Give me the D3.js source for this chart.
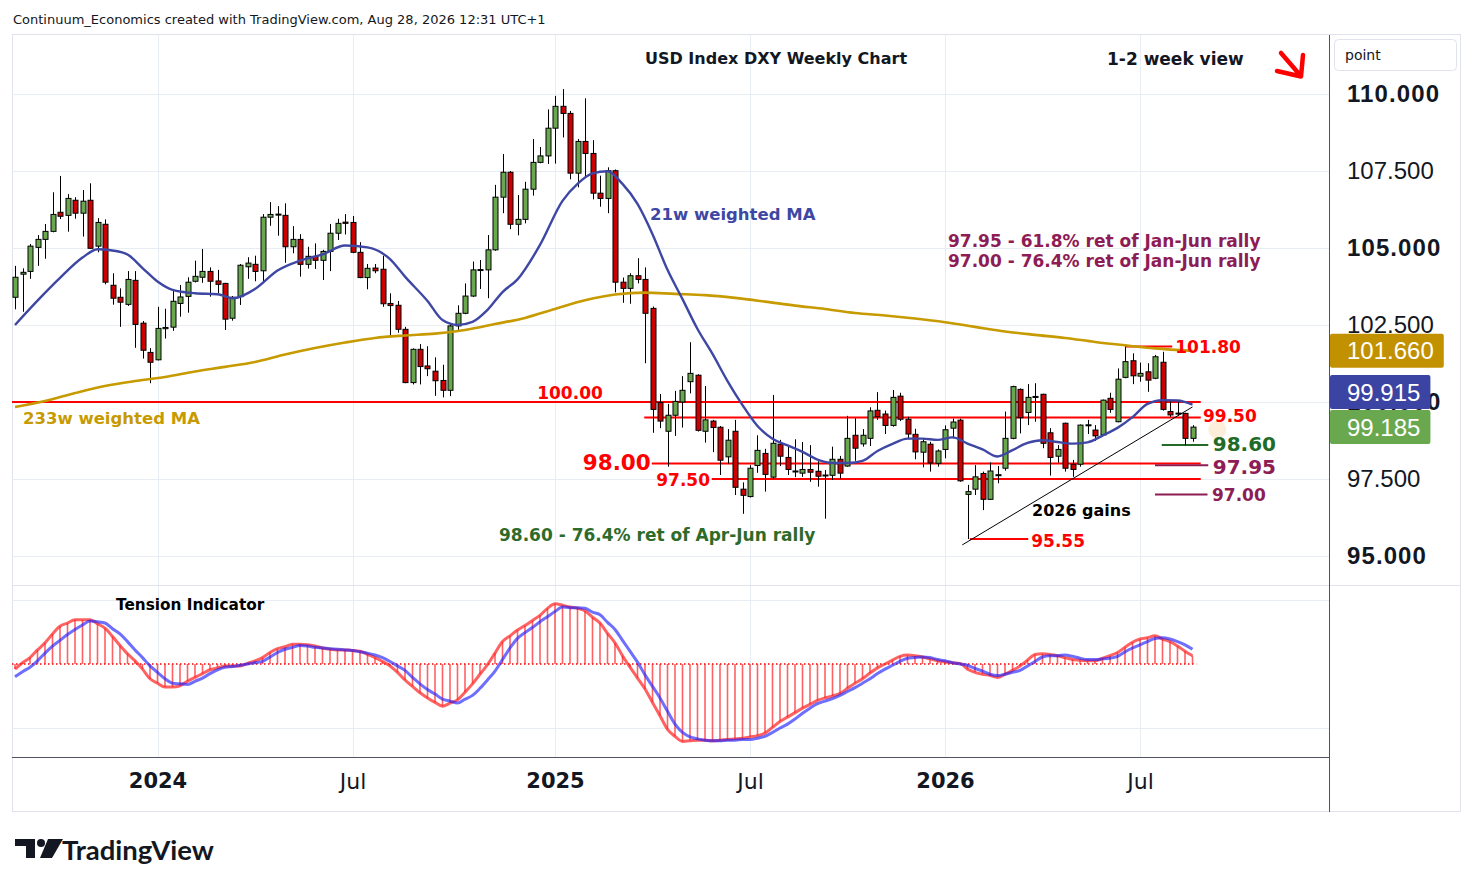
<!DOCTYPE html>
<html>
<head>
<meta charset="utf-8">
<script src="https://cdnjs.cloudflare.com/ajax/libs/d3/7.8.5/d3.min.js"></script>
<style>
  body { margin: 0; background: #ffffff; }
  svg { display: block; font-family: "DejaVu Sans", sans-serif; }
</style>
</head>
<body>
<svg id="chart" width="1474" height="887"></svg>
<script>
// ---- data ----
var firstWeek = "2023-08-21";

var opens = [103.40,104.15,104.24,105.02,105.28,105.54,106.16,106.06,106.55,106.13,
106.55,105.06,105.77,103.79,103.40,103.17,103.95,102.56,101.61,101.37,
102.38,102.43,103.20,103.43,103.92,104.05,104.24,103.93,103.85,102.72,
103.42,104.39,104.47,104.26,106.00,106.08,106.06,105.04,105.28,104.47,
104.73,104.60,104.89,105.48,105.84,105.83,104.86,104.04,104.35,104.31,
103.20,103.14,102.36,100.63,101.71,101.17,101.00,100.70,100.38,102.47,
102.88,103.44,104.27,104.29,104.94,106.65,107.46,105.77,105.93,106.91,
107.78,107.99,108.89,109.60,109.37,107.43,108.46,108.07,106.78,106.61,
107.51,103.89,103.69,104.10,103.98,103.04,99.98,99.05,99.57,100.00,
100.66,100.87,99.05,99.38,99.18,98.22,99.05,97.17,96.93,97.94,
98.33,97.56,98.63,98.20,97.76,97.69,97.81,97.75,97.61,97.62,
98.14,97.92,98.92,98.64,98.82,99.73,99.61,99.24,100.19,99.44,
98.95,98.37,98.63,98.01,98.46,99.15,99.41,97.00,97.17,97.68,
96.84,97.62,97.85,98.82,100.41,99.66,100.16,100.25,99.00,98.24,
99.31,97.98,97.98,99.24,99.09,98.93,100.12,99.36,100.80,101.34,
100.84,100.98,100.77,101.29,99.69,99.64,99.63,98.82];

var highs = [104.42,104.34,105.13,105.42,105.78,106.81,107.34,106.75,106.65,106.88,
107.10,105.97,105.93,104.18,103.69,104.25,104.25,102.63,101.75,103.09,
103.03,103.67,103.80,104.05,104.59,104.97,104.37,104.29,103.87,103.44,
104.48,104.70,104.75,106.10,106.49,106.36,106.45,105.71,105.45,105.04,
105.15,104.94,105.78,105.95,106.10,106.04,105.19,104.48,104.48,104.75,
103.53,103.28,102.44,101.74,101.88,101.81,101.45,101.21,102.57,103.14,
103.85,104.56,104.61,105.42,107.05,108.05,107.50,106.72,107.15,108.54,
108.28,109.50,109.94,110.16,109.45,108.54,109.86,108.50,107.35,107.62,
107.55,104.04,104.18,104.67,104.37,103.10,100.26,99.94,100.36,100.84,
101.94,100.90,100.52,99.42,99.22,99.12,99.42,97.39,97.95,98.92,
98.48,100.23,98.77,98.60,98.79,98.70,98.60,98.08,97.79,98.55,
98.25,99.55,99.47,99.12,99.83,100.32,99.72,100.39,100.30,99.52,
99.13,98.81,98.71,98.46,99.24,99.46,99.46,97.31,97.95,97.74,
98.04,97.92,99.69,100.53,100.44,100.58,100.61,100.27,99.15,98.60,
99.33,98.12,99.27,99.42,99.25,100.08,100.30,101.09,101.80,101.58,
101.28,101.26,101.53,101.63,100.03,100.04,99.65,99.25];

var lows = [103.01,102.93,104.00,104.42,104.65,105.51,105.94,105.53,105.95,105.37,
104.97,104.86,103.82,103.16,102.44,103.12,101.76,101.41,100.61,101.35,
102.06,102.31,102.77,102.90,103.88,103.87,103.42,103.53,102.34,102.64,
103.15,104.00,103.92,103.89,105.72,105.40,104.52,104.83,104.07,104.33,
104.32,103.96,104.25,105.26,105.44,104.83,104.02,103.66,104.18,103.09,
102.15,102.25,100.61,100.57,100.57,100.84,100.20,100.15,100.19,102.31,
102.85,103.41,103.67,103.37,104.91,106.13,105.61,105.41,105.80,106.70,
107.75,107.73,107.74,108.59,107.23,106.97,107.31,106.58,106.34,106.13,
103.56,103.22,103.19,103.85,101.26,99.00,99.15,97.90,98.90,99.17,
100.28,99.04,98.68,98.37,97.63,98.00,96.98,96.37,96.90,97.70,
97.09,97.50,97.92,97.63,97.56,97.57,97.41,97.25,96.21,97.47,
97.52,97.90,98.09,98.55,98.57,99.42,98.96,99.20,99.38,98.79,
98.14,97.88,97.74,97.90,98.17,98.82,97.41,95.55,96.98,96.49,
96.82,97.36,97.77,98.79,98.98,99.25,99.36,98.50,97.61,98.03,
97.74,97.57,97.90,98.96,98.74,98.90,99.65,99.34,100.77,100.58,
100.66,100.33,100.74,99.72,99.52,99.55,98.60,98.71];

var closes = [104.05,104.21,105.06,105.28,105.54,106.09,106.03,106.61,106.13,106.52,
104.99,105.83,103.89,103.37,103.24,103.98,102.52,101.68,101.29,102.39,
102.42,103.27,103.41,103.89,104.08,104.24,103.92,103.82,102.69,103.40,
104.44,104.51,104.24,106.00,106.09,106.10,105.04,105.28,104.47,104.73,
104.60,104.89,105.48,105.80,105.80,104.86,104.04,104.34,104.26,103.19,
103.13,102.36,100.63,101.71,101.15,101.08,100.69,100.38,102.47,102.88,
103.44,104.29,104.30,104.94,106.65,107.46,105.77,105.93,106.91,107.78,
107.99,108.89,109.60,109.37,107.43,108.46,108.07,106.78,106.61,107.51,
103.89,103.69,104.10,103.98,102.88,99.76,99.38,99.57,100.02,100.38,
100.93,99.08,99.42,99.17,98.11,98.76,97.23,96.97,97.85,98.43,
97.65,98.66,98.24,97.81,97.73,97.81,97.72,97.59,97.63,98.14,
97.69,98.82,98.50,98.92,99.71,99.52,99.24,100.15,99.44,98.96,
98.38,98.71,98.02,98.41,99.10,99.35,97.44,97.09,97.57,96.84,
97.76,97.64,98.82,100.50,99.49,100.15,100.18,98.66,98.20,98.46,
97.85,97.81,99.25,99.26,98.90,100.06,99.76,100.74,101.31,100.85,
100.93,100.71,101.47,99.76,99.58,99.62,98.82,99.185];

// 21w weighted MA, read at these week numbers
var ma21Weeks = [0,3,6,9,11,13,15,17,19,21,24,27,29,32,35,38,41,44,47,50,
52,55,57,59,61,63,65,67,70,73,75,77,79,81,83,85,87,89,91,93,
95,97,99,101,103,105,107,109,111,113,115,117,119,121,123,125,127,129,131,133,
135,137,139,141,143,145,147,149,151,153,155,157];
var ma21Values = [102.50,103.29,104.03,104.69,104.96,104.92,104.79,104.35,103.91,103.64,
103.53,103.50,103.37,103.67,104.27,104.59,104.79,105.08,105.02,104.64,
104.07,103.28,102.66,102.50,102.60,102.99,103.57,103.98,105.10,106.53,
107.08,107.42,107.49,107.08,106.43,105.45,104.29,103.34,102.37,101.56,
100.68,99.90,99.22,98.81,98.59,98.38,98.13,98.02,98.02,98.09,
98.41,98.64,98.81,98.81,98.77,98.85,98.65,98.46,98.23,98.44,
98.67,98.76,98.70,98.65,98.69,98.91,99.16,99.51,99.94,100.06,
100.05,99.915];

// 233w weighted MA
var ma233Weeks = [0,4,8,12,16,20,24,28,32,36,40,44,48,52,56,60,64,68,72,76,
80,84,88,92,96,100,104,108,112,116,120,124,128,132,136,140,144,148,152,157];
var ma233Values = [99.84,100.03,100.29,100.52,100.68,100.81,100.99,101.14,101.30,101.54,
101.75,101.93,102.08,102.16,102.22,102.34,102.53,102.73,103.02,103.30,
103.49,103.55,103.51,103.47,103.38,103.26,103.13,103.02,102.89,102.81,
102.71,102.59,102.44,102.29,102.18,102.08,101.95,101.84,101.74,101.66];

// Tension Indicator (fast = red, slow = blue), one value per week
var tensionFast = [-0.08,0.02,0.10,0.22,0.33,0.47,0.59,0.64,0.69,0.69,
0.69,0.63,0.56,0.43,0.29,0.16,0.05,-0.08,-0.23,-0.30,
-0.36,-0.36,-0.34,-0.27,-0.21,-0.15,-0.09,-0.06,-0.03,-0.03,
-0.03,0.01,0.05,0.10,0.18,0.24,0.27,0.31,0.31,0.30,
0.28,0.25,0.23,0.22,0.22,0.21,0.20,0.15,0.10,0.04,
-0.03,-0.13,-0.25,-0.35,-0.45,-0.53,-0.60,-0.66,-0.61,-0.56,
-0.44,-0.31,-0.16,-0.01,0.17,0.35,0.44,0.53,0.60,0.68,
0.76,0.87,0.94,0.92,0.89,0.87,0.83,0.73,0.64,0.48,
0.33,0.13,-0.05,-0.22,-0.39,-0.60,-0.81,-1.02,-1.13,-1.21,
-1.20,-1.19,-1.19,-1.20,-1.19,-1.18,-1.17,-1.16,-1.14,-1.12,
-1.08,-0.99,-0.90,-0.83,-0.76,-0.69,-0.63,-0.57,-0.53,-0.50,
-0.46,-0.38,-0.30,-0.23,-0.14,-0.06,0.00,0.06,0.12,0.14,
0.13,0.11,0.08,0.05,0.03,0.02,0.01,-0.08,-0.13,-0.16,
-0.18,-0.21,-0.16,-0.10,-0.03,0.06,0.15,0.16,0.15,0.13,
0.10,0.07,0.06,0.05,0.05,0.09,0.13,0.18,0.26,0.34,
0.39,0.41,0.44,0.39,0.35,0.28,0.20,0.13];

var tensionSlow = [-0.20,-0.12,-0.05,0.05,0.17,0.28,0.37,0.46,0.54,0.61,
0.67,0.66,0.64,0.55,0.47,0.35,0.22,0.10,-0.03,-0.13,
-0.23,-0.30,-0.31,-0.32,-0.27,-0.22,-0.15,-0.09,-0.05,-0.04,
-0.02,0.00,0.02,0.04,0.11,0.18,0.23,0.26,0.29,0.28,
0.26,0.25,0.24,0.23,0.22,0.21,0.19,0.17,0.14,0.10,
0.04,-0.03,-0.10,-0.21,-0.31,-0.40,-0.47,-0.55,-0.58,-0.61,
-0.55,-0.49,-0.38,-0.25,-0.11,0.07,0.25,0.40,0.49,0.57,
0.66,0.74,0.82,0.89,0.88,0.88,0.87,0.81,0.77,0.65,
0.54,0.37,0.20,0.03,-0.17,-0.35,-0.53,-0.74,-0.94,-1.07,
-1.14,-1.17,-1.19,-1.20,-1.20,-1.19,-1.19,-1.18,-1.18,-1.16,
-1.13,-1.07,-1.00,-0.94,-0.86,-0.77,-0.69,-0.62,-0.58,-0.54,
-0.49,-0.43,-0.37,-0.30,-0.23,-0.15,-0.08,-0.02,0.04,0.09,
0.10,0.11,0.10,0.07,0.05,0.02,0.00,-0.02,-0.07,-0.11,
-0.16,-0.18,-0.16,-0.13,-0.10,-0.03,0.04,0.11,0.13,0.13,
0.14,0.12,0.09,0.07,0.07,0.08,0.09,0.12,0.19,0.25,
0.30,0.35,0.40,0.41,0.39,0.35,0.30,0.23];

var priceTicks = [95, 97.5, 100, 102.5, 105, 107.5, 110];
var timeTickDates = ["2024-01-01","2024-07-01","2025-01-06","2025-07-07","2026-01-05","2026-07-06"];
var timeTickLabels = ["2024","Jul","2025","Jul","2026","Jul"];

// ---- layout ----
var svg = d3.select("#chart");
var paneLeft = 12, paneRight = 1329, mainTop = 35, mainBottom = 585, indBottom = 757, axisBottom = 812;
var GRID = "#e8edf3", BORDER = "#e0e3eb", AXIS = "#50535e";
var RED = "#ff0000", GOLD = "#c79a00", NAVY = "#3e47a3", GREENBOX = "#6aa84f";
var MAGENTA = "#8e1c55", DKGREEN = "#226b26";

var parse = d3.utcParse("%Y-%m-%d");
var week0 = parse(firstWeek);
function weekAt(i) { return new Date(week0.getTime() + i * 7 * 864e5); }

var x = d3.scaleUtc().domain([weekAt(0), weekAt(157)]).range([15, 1192.5]);
var y = d3.scaleLinear().domain([95, 110]).range([556, 94]);
var yT = d3.scaleLinear().domain([-1, 1]).range([728, 600]);
function xw(i) { return x(weekAt(i)); }

var bars = opens.map(function(o, i) {
  return {i: i, date: weekAt(i), o: o, h: highs[i], l: lows[i], c: closes[i]};
});

// frame
svg.append("rect").attr("x", 12.5).attr("y", 34.5).attr("width", 1448).attr("height", 777)
  .attr("fill", "#fff").attr("stroke", BORDER);

var defs = svg.append("defs");
defs.append("clipPath").attr("id", "mainClip").append("rect")
  .attr("x", paneLeft).attr("y", mainTop).attr("width", paneRight - paneLeft).attr("height", mainBottom - mainTop);
defs.append("clipPath").attr("id", "indClip").append("rect")
  .attr("x", paneLeft).attr("y", mainBottom + 1).attr("width", paneRight - paneLeft).attr("height", indBottom - mainBottom - 1);

// grid
var grid = svg.append("g");
grid.selectAll(".hg").data(priceTicks).enter().append("line")
  .attr("x1", paneLeft).attr("x2", paneRight)
  .attr("y1", function(d) { return Math.round(y(d)) + 0.5; })
  .attr("y2", function(d) { return Math.round(y(d)) + 0.5; })
  .attr("stroke", GRID);
grid.selectAll(".ig").data([-1, 1]).enter().append("line")
  .attr("x1", paneLeft).attr("x2", paneRight)
  .attr("y1", function(d) { return Math.round(yT(d)) + 0.5; })
  .attr("y2", function(d) { return Math.round(yT(d)) + 0.5; })
  .attr("stroke", GRID);
grid.selectAll(".vg").data(timeTickDates).enter().append("line")
  .attr("x1", function(d) { return Math.round(x(parse(d))) + 0.5; })
  .attr("x2", function(d) { return Math.round(x(parse(d))) + 0.5; })
  .attr("y1", mainTop).attr("y2", indBottom)
  .attr("stroke", GRID);

// pane separators
svg.append("line").attr("x1", paneLeft).attr("x2", 1461).attr("y1", mainBottom + 0.5).attr("y2", mainBottom + 0.5).attr("stroke", BORDER);
svg.append("line").attr("x1", paneLeft).attr("x2", paneRight).attr("y1", indBottom + 0.5).attr("y2", indBottom + 0.5).attr("stroke", AXIS);
svg.append("line").attr("x1", paneRight + 0.5).attr("x2", paneRight + 0.5).attr("y1", 35).attr("y2", axisBottom).attr("stroke", AXIS);

// ---- main pane ----
var main = svg.append("g").attr("clip-path", "url(#mainClip)");

// horizontal levels
var levelLines = [
  {p: 100.00, a: -0.4, b: 158.1, color: RED},
  {p: 99.50, a: 83.9, b: 158.1, color: RED},
  {p: 98.00, a: 84.9, b: 158.1, color: RED},
  {p: 97.50, a: 92.9, b: 158.1, color: RED},
  {p: 101.80, a: 148, b: 154.3, color: RED},
  {p: 98.60, a: 152.9, b: 159.1, color: DKGREEN},
  {p: 97.95, a: 152, b: 159.1, color: MAGENTA},
  {p: 97.00, a: 152, b: 159, color: MAGENTA},
  {p: 95.55, a: 127.3, b: 135.1, color: RED}
];
main.selectAll(".lvl").data(levelLines).enter().append("line")
  .attr("x1", function(d) { return xw(d.a); }).attr("x2", function(d) { return xw(d.b); })
  .attr("y1", function(d) { return y(d.p); }).attr("y2", function(d) { return y(d.p); })
  .attr("stroke", function(d) { return d.color; }).attr("stroke-width", 2);

// candles
var cg = main.append("g");
cg.selectAll(".wick").data(bars).enter().append("line")
  .attr("x1", function(d) { return Math.round(x(d.date)) + 0.5; })
  .attr("x2", function(d) { return Math.round(x(d.date)) + 0.5; })
  .attr("y1", function(d) { return y(d.h); }).attr("y2", function(d) { return y(d.l); })
  .attr("stroke", "#000").attr("stroke-width", 1);
cg.selectAll(".body").data(bars).enter().append("rect")
  .attr("x", function(d) { return Math.round(x(d.date)) - 2; })
  .attr("width", 5)
  .attr("y", function(d) { return y(Math.max(d.o, d.c)); })
  .attr("height", function(d) { return Math.max(1, Math.abs(y(d.o) - y(d.c))); })
  .attr("fill", function(d) { return d.c >= d.o ? GREENBOX : "#cc0000"; })
  .attr("stroke", "#000").attr("stroke-width", 1);

// moving averages
var maLine = d3.line()
  .x(function(d) { return xw(d[0]); })
  .y(function(d) { return y(d[1]); })
  .curve(d3.curveMonotoneX);
main.append("path").attr("d", maLine(d3.zip(ma233Weeks, ma233Values)))
  .attr("fill", "none").attr("stroke", GOLD).attr("stroke-width", 2.6);
main.append("path").attr("d", maLine(d3.zip(ma21Weeks, ma21Values)))
  .attr("fill", "none").attr("stroke", NAVY).attr("stroke-width", 2.4);

// 2026 gains trend line
main.append("line")
  .attr("x1", xw(126.3)).attr("y1", y(95.36))
  .attr("x2", xw(157)).attr("y2", y(99.84))
  .attr("stroke", "#000").attr("stroke-width", 1);

// faint projection marker
main.append("circle").attr("cx", xw(160.3)).attr("cy", y(99.1)).attr("r", 9)
  .attr("fill", "#f5a030").attr("opacity", 0.18);

// ---- texts in main pane ----
function label(txt, px, py, size, color, anchor) {
  return svg.append("text").attr("x", px).attr("y", py).attr("dy", "0.35em")
    .attr("font-size", size).attr("font-weight", "bold")
    .attr("fill", color).attr("text-anchor", anchor || "start").text(txt);
}
label("100.00", xw(74), y(100) - 9, 17, RED, "middle");
label("99.50", xw(158.4), y(99.5) - 1, 17, RED);
label("98.00", xw(75.7), y(98) - 1.5, 21.5, RED);
label("97.50", xw(85.5), y(97.5) + 1, 17, RED);
label("101.80", xw(154.7), y(101.8), 17, RED);
label("98.60", xw(159.7), y(98.6) - 1, 20, DKGREEN);
label("97.95", xw(159.7), y(97.95) + 1.5, 20, MAGENTA);
label("97.00", xw(159.6), y(97.0) + 0.5, 17, MAGENTA);
label("95.55", xw(135.5), y(95.55) + 1.5, 17, RED);
label("2026 gains", 1032, 510, 16, "#000");
label("98.60 - 76.4% ret of Apr-Jun rally", 499, 535, 17, "#2e6b2a");
label("97.95 - 61.8% ret of Jan-Jun rally", 948, 241, 17, MAGENTA);
label("97.00 - 76.4% ret of Jan-Jun rally", 948, 261, 17, MAGENTA);
label("21w weighted MA", 650, 214, 16.5, NAVY);
label("233w weighted MA", 23, 418, 16.5, GOLD);
label("USD Index DXY Weekly Chart", 645, 58, 16, "#131722");
label("1-2 week view", 1107, 59, 17, "#131722");

// arrow
svg.append("path").attr("d", "M1281,53 L1300,75 M1277,71 L1301,76.5 L1303,55")
  .attr("fill", "none").attr("stroke", RED).attr("stroke-width", 4.5)
  .attr("stroke-linecap", "round").attr("stroke-linejoin", "round");

// ---- indicator pane ----
var ind = svg.append("g").attr("clip-path", "url(#indClip)");
ind.append("line").attr("x1", paneLeft).attr("x2", xw(157.5))
  .attr("y1", yT(0)).attr("y2", yT(0))
  .attr("stroke", RED).attr("stroke-width", 1.3).attr("stroke-dasharray", "1.5,2.5");
ind.selectAll(".hist").data(tensionFast).enter().append("line")
  .attr("x1", function(d, i) { return xw(i); }).attr("x2", function(d, i) { return xw(i); })
  .attr("y1", yT(0)).attr("y2", function(d) { return yT(d); })
  .attr("stroke", "#ff2020").attr("stroke-opacity", 0.7).attr("stroke-width", 1.6);
var tLine = d3.line()
  .x(function(d, i) { return xw(i); })
  .y(function(d) { return yT(d); })
  .curve(d3.curveMonotoneX);
ind.append("path").attr("d", tLine(tensionFast))
  .attr("fill", "none").attr("stroke", "#ff2020").attr("stroke-opacity", 0.7).attr("stroke-width", 3);
ind.append("path").attr("d", tLine(tensionSlow))
  .attr("fill", "none").attr("stroke", "#2020ff").attr("stroke-opacity", 0.65).attr("stroke-width", 3);
label("Tension Indicator", 116, 605, 15.3, "#000");

// ---- price axis ----
var yAxis = d3.axisRight(y).tickValues(priceTicks).tickFormat(d3.format(".3f")).tickSize(0).tickPadding(18);
var ya = svg.append("g").attr("transform", "translate(" + paneRight + ",0)").call(yAxis);
ya.select(".domain").remove();
ya.selectAll("text")
  .attr("font-family", "'Liberation Sans', Arial, sans-serif")
  .attr("font-size", 24).attr("fill", "#131722")
  .attr("font-weight", function(d) { return d % 5 === 0 ? "bold" : "normal"; })
  .attr("letter-spacing", function(d) { return d % 5 === 0 ? 1.1 : 0; });

// last-value boxes
var lastMarks = [
  {v: ma233Values[ma233Values.length - 1], fill: "#c29100"},
  {v: ma21Values[ma21Values.length - 1], fill: "#3b44a3"},
  {v: closes[closes.length - 1], fill: GREENBOX}
];
var boxH = 34;
lastMarks.forEach(function(m) { m.cy = y(m.v); });
var sorted = lastMarks.slice().sort(function(a, b) { return b.cy - a.cy; });
for (var k = 1; k < sorted.length; k++) {
  if (sorted[k].cy > sorted[k - 1].cy - boxH) sorted[k].cy = sorted[k - 1].cy - boxH - 1;
}
lastMarks.forEach(function(m) {
  var g = svg.append("g");
  var r = g.append("rect").attr("x", paneRight + 1).attr("y", m.cy - boxH / 2)
    .attr("height", boxH).attr("rx", 2).attr("fill", m.fill);
  var t = g.append("text").attr("x", 1347).attr("y", m.cy).attr("dy", "0.35em")
    .attr("font-family", "'Liberation Sans', Arial, sans-serif").attr("font-size", 24)
    .attr("fill", "#fff").text(d3.format(".3f")(m.v));
  r.attr("width", 1347 - paneRight - 1 + t.node().getComputedTextLength() + 10);
});

// ---- time axis ----
var xAxis = d3.axisBottom(x).tickValues(timeTickDates.map(parse))
  .tickFormat(function(d, i) { return timeTickLabels[i]; }).tickSize(0).tickPadding(16);
var xa = svg.append("g").attr("transform", "translate(0," + indBottom + ")").call(xAxis);
xa.select(".domain").remove();
xa.selectAll("text")
  .attr("font-family", "'DejaVu Sans', sans-serif").attr("fill", "#131722")
  .attr("font-size", function(d, i) { return /^\d/.test(timeTickLabels[i]) ? 21 : 22; })
  .attr("font-weight", function(d, i) { return /^\d/.test(timeTickLabels[i]) ? "bold" : "normal"; });

// ---- header & footer ----
svg.append("text").attr("x", 13).attr("y", 19).attr("dy", "0.35em")
  .attr("font-size", 13).attr("fill", "#131722")
  .text("Continuum_Economics created with TradingView.com, Aug 28, 2026 12:31 UTC+1");

svg.append("rect").attr("x", 1334.5).attr("y", 39.5).attr("width", 122).attr("height", 31).attr("rx", 4)
  .attr("fill", "#fff").attr("stroke", BORDER);
svg.append("text").attr("x", 1345).attr("y", 55).attr("dy", "0.35em")
  .attr("font-size", 14).attr("fill", "#131722").text("point");

var logo = svg.append("g").attr("fill", "#131722");
logo.append("rect").attr("x", 15).attr("y", 839).attr("width", 20).attr("height", 7);
logo.append("rect").attr("x", 26).attr("y", 839).attr("width", 9).attr("height", 19);
logo.append("circle").attr("cx", 41).attr("cy", 843).attr("r", 4);
logo.append("path").attr("d", "M48,839 L63,839 L52,858 L40,858 Z");
svg.append("text").attr("x", 62).attr("y", 850).attr("dy", "0.35em")
  .attr("font-family", "Lato, sans-serif").attr("font-weight", "bold").attr("font-size", 27.5)
  .attr("fill", "#131722").text("TradingView");
</script>
</body>
</html>
